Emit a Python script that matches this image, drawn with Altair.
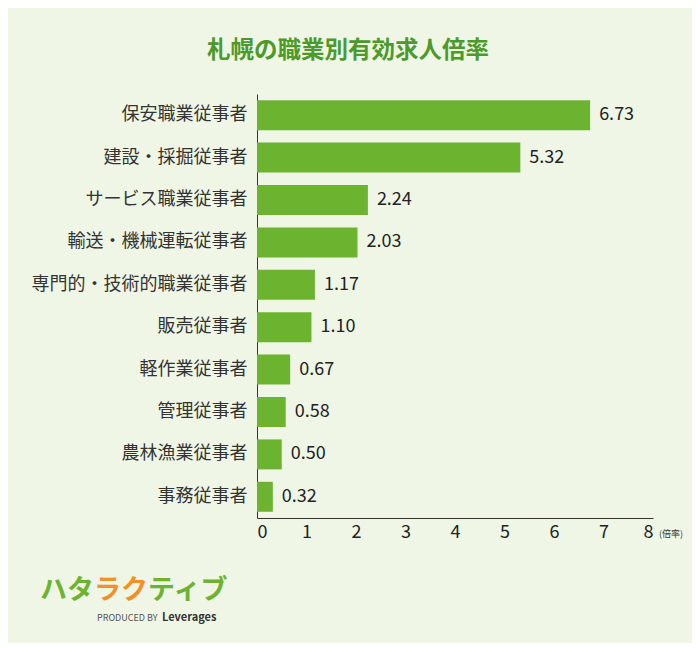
import altair as alt
import pandas as pd

categories = ["保安職業従事者", "建設・採掘従事者", "サービス職業従事者", "輸送・機械運転従事者",
              "専門的・技術的職業従事者", "販売従事者", "軽作業従事者", "管理従事者",
              "農林漁業従事者", "事務従事者"]
values = [6.73, 5.32, 2.24, 2.03, 1.17, 1.10, 0.67, 0.58, 0.50, 0.32]
value_labels = ["6.73", "5.32", "2.24", "2.03", "1.17", "1.10", "0.67", "0.58", "0.50", "0.32"]
x_ticks = [0, 1, 2, 3, 4, 5, 6, 7, 8]
title_text = "札幌の職業別有効求人倍率"
unit_text = "(倍率)"

FONT = "Noto Sans CJK JP"
BG = "#eff6e6"
BAR = "#6cb42f"
TITLE = "#4c9a2a"
ORANGE = "#f0922a"
W, H = 396, 424

df = pd.DataFrame({"cat": categories, "val": values, "label": value_labels})

y_enc = alt.Y("cat:N", sort=categories,
              scale=alt.Scale(paddingInner=0.293, paddingOuter=0.1465),
              axis=alt.Axis(title=None, ticks=False, labelFontSize=18, labelColor="#333",
                            labelPadding=10, domainColor="#333", labelFont=FONT,
                            labelLimit=300))
x_enc = alt.X("val:Q", scale=alt.Scale(domain=[0, 8], nice=False),
              axis=alt.Axis(values=x_ticks, title=None, grid=False, ticks=False,
                            labelFontSize=18, labelPadding=5, domainColor="#333",
                            labelColor="#222", format="d", labelFont=FONT))

bars = alt.Chart(df).mark_bar(color=BAR).encode(x=x_enc, y=y_enc)
vals = alt.Chart(df).mark_text(align="left", dx=9, fontSize=18, font=FONT, color="#222").encode(
    x="val:Q", y=alt.Y("cat:N", sort=categories), text="label:N")


def deco(txt, x, y, size, color, weight="normal", align="left", style="normal"):
    return alt.Chart(pd.DataFrame({"t": [txt]})).mark_text(
        align=align, baseline="middle", fontSize=size, font=FONT, color=color,
        fontWeight=weight, fontStyle=style).encode(
        x=alt.value(x), y=alt.value(y), text="t:N")


layers = [
    bars, vals,
    deco(title_text, 91, -43, 23.5, TITLE, weight="bold", align="center"),
    deco(unit_text, 402, 440, 9, "#333"),
    deco("ハタ", -217, 497, 27, BAR, weight="bold"),
    deco("ラク", -163, 497, 27, ORANGE, weight="bold"),
    deco("ティブ", -109, 497, 27, BAR, weight="bold"),
    deco("PRODUCED BY", -160, 524, 9, "#555"),
    deco("Leverages", -95, 524, 11, "#333", weight="bold"),
]

chart = alt.layer(*layers).properties(
    width=W, height=H,
    autosize=alt.AutoSizeParams(type="none"),
    padding={"left": 249, "top": 86, "right": 39, "bottom": 125},
    background=BG,
).configure_view(stroke=None)

chart.save("out.html", embed_options={"renderer": "svg", "actions": False})
